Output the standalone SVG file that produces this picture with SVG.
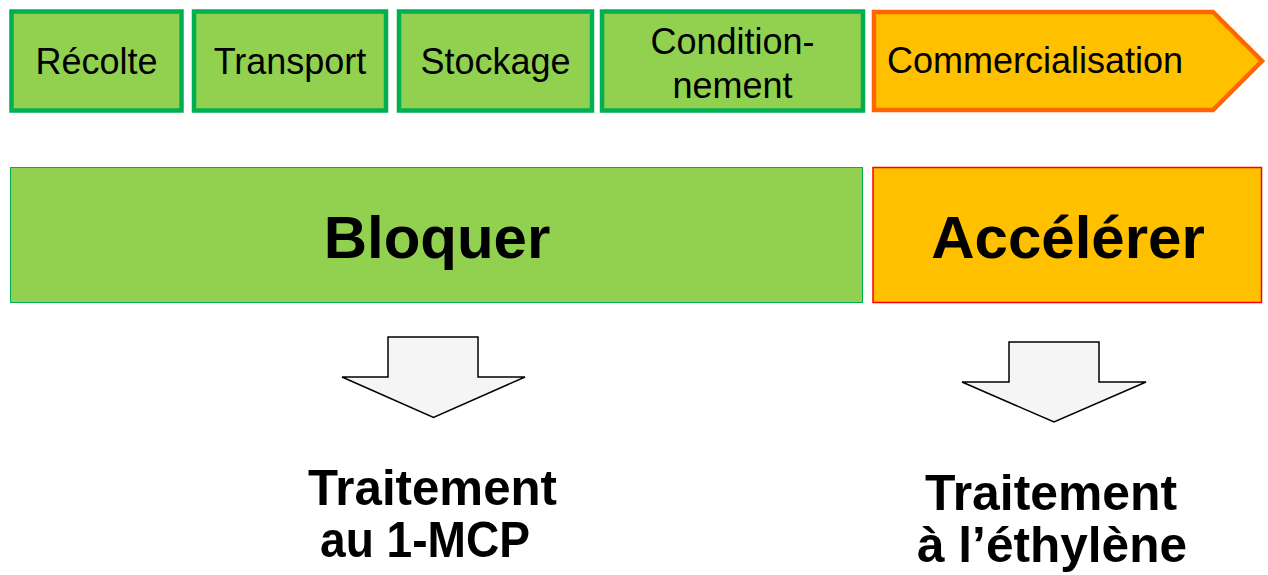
<svg xmlns="http://www.w3.org/2000/svg" width="1268" height="575" viewBox="0 0 1268 575">
<style>
.step{fill:#92D050;stroke:#00B050;stroke-width:4.5}
.sell{fill:#FFC000;stroke:#FF6600;stroke-width:4.5;stroke-linejoin:miter}
.t1{font-family:"Liberation Sans",Arial,sans-serif;font-size:36px;fill:#000}
.big{font-family:"Liberation Sans",Arial,sans-serif;font-size:60px;font-weight:bold;fill:#000;text-anchor:middle}
.res{font-family:"Liberation Sans",Arial,sans-serif;font-size:50px;font-weight:bold;fill:#000}
.arrow{fill:#F5F5F5;stroke:#000;stroke-width:1.5;stroke-linejoin:miter}
</style>
<rect width="1268" height="575" fill="#FFFFFF"/>
<g id="recolte"><rect class="step" x="11.5" y="11.5" width="170" height="99"/><text class="t1" x="96.5" y="74" text-anchor="middle">Récolte</text></g>
<g id="transport"><rect class="step" x="194" y="11.5" width="192" height="99"/><text class="t1" x="290" y="74" text-anchor="middle">Transport</text></g>
<g id="stockage"><rect class="step" x="399" y="11.5" width="193" height="99"/><text class="t1" x="495.5" y="74" text-anchor="middle">Stockage</text></g>
<g id="conditionnement"><rect class="step" x="602" y="11.5" width="261" height="99"/><text class="t1" x="732.5" y="54" text-anchor="middle">Condition-</text><text class="t1" x="732.5" y="98" text-anchor="middle">nement</text></g>
<g id="commercialisation"><polygon class="sell" points="874,12 1213,12 1262,61 1213,110 874,110"/><text class="t1" x="887" y="73">Commercialisation</text></g>
<g id="bloquer"><rect x="10.5" y="167.5" width="852" height="135" fill="#92D050" stroke="#00B050" stroke-width="1"/><text class="big" x="437" y="258">Bloquer</text></g>
<g id="accelerer"><rect x="873" y="167.5" width="388.5" height="135" fill="#FFC000" stroke="#FF0000" stroke-width="1.5"/><text class="big" x="1068" y="258">Accélérer</text></g>
<g id="connectors">
<polygon class="arrow" points="388,337 478,337 478,377 525,377 433.5,417.5 342,377 388,377"/>
<polygon class="arrow" points="1009,342 1099,342 1099,382 1146,382 1054,422 962,382 1009,382"/>
</g>
<g id="mcp"><text class="res" x="308" y="505" textLength="249" lengthAdjust="spacingAndGlyphs">Traitement</text><text class="res" x="320" y="557" textLength="210" lengthAdjust="spacingAndGlyphs">au 1-MCP</text></g>
<g id="ethylene"><text class="res" x="925" y="510" textLength="252" lengthAdjust="spacingAndGlyphs">Traitement</text><text class="res" x="917" y="562" textLength="270" lengthAdjust="spacingAndGlyphs">à l’éthylène</text></g>
</svg>
